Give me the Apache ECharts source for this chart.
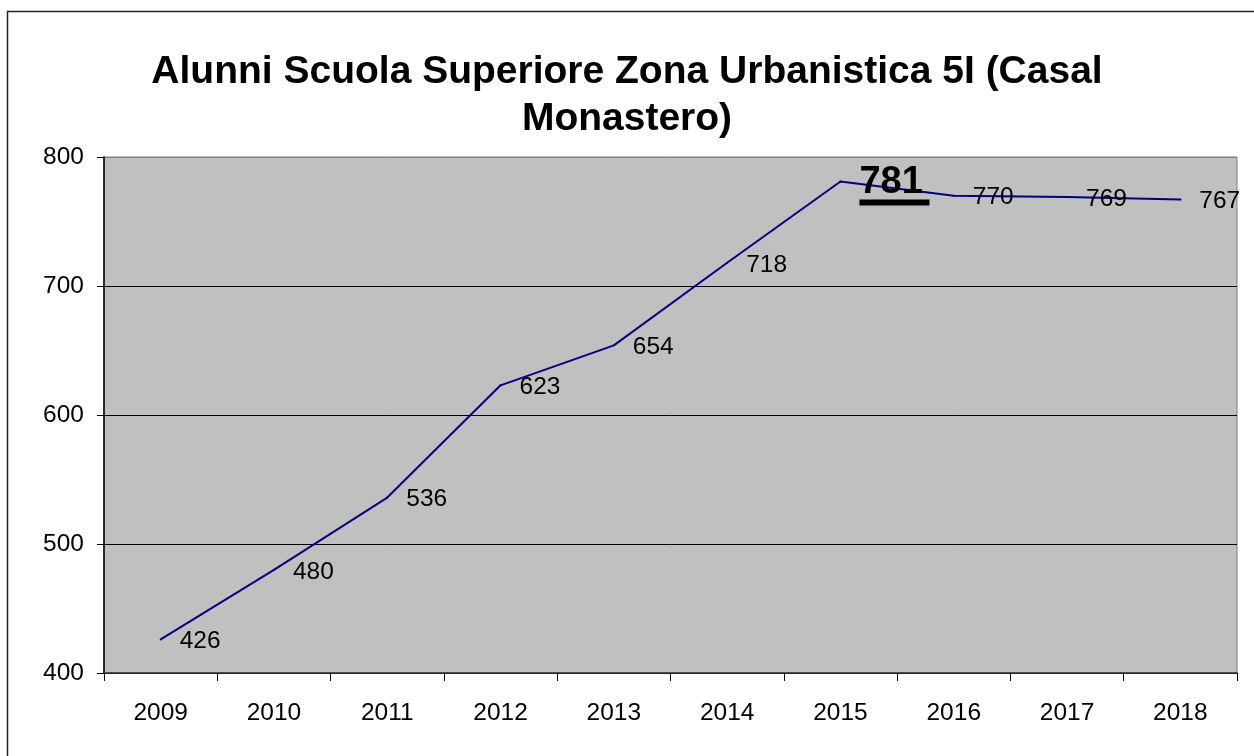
<!DOCTYPE html>
<html>
<head>
<meta charset="utf-8">
<script src="https://cdn.jsdelivr.net/npm/echarts@6/dist/echarts.min.js"></script>
<style>
  html, body { margin: 0; padding: 0; background: #fff; }
  #chart { width: 1254px; height: 756px; }
</style>
</head>
<body>
<div id="chart"></div>
<script>
var anni = ['2009', '2010', '2011', '2012', '2013', '2014', '2015', '2016', '2017', '2018'];
var alunni = [426, 480, 536, 623, 654, 718, 781, 770, 769, 767];
var yTicks = [400, 500, 600, 700, 800];

var maxVal = Math.max.apply(null, alunni);

var myChart = echarts.init(document.getElementById('chart'));
var option = {
    animation: false,
    textStyle: { fontFamily: 'Liberation Sans, Arial, sans-serif' },
    title: {
        text: 'Alunni Scuola Superiore Zona Urbanistica 5I (Casal\nMonastero)',
        left: 'center',
        top: 44,
        textStyle: {
            fontSize: 39,
            fontWeight: 'bold',
            color: '#000',
            lineHeight: 47
        }
    },
    graphic: [{
        type: 'rect',
        shape: { x: 7.5, y: 11.5, width: 1300, height: 800 },
        style: { fill: 'none', stroke: '#222', lineWidth: 1.5 },
        silent: true
    }],
    grid: {
        left: 104,
        right: 17,
        top: 157,
        bottom: 83,
        show: true,
        backgroundColor: '#C0C0C0',
        borderColor: '#808080',
        borderWidth: 1
    },
    xAxis: {
        type: 'category',
        data: anni,
        boundaryGap: true,
        axisLine: { lineStyle: { color: '#333', width: 1.5 } },
        axisTick: { show: true, length: 8, lineStyle: { color: '#000' } },
        axisLabel: { color: '#000', fontSize: 24.5, margin: 28, interval: 0 }
    },
    yAxis: {
        type: 'value',
        min: yTicks[0],
        max: yTicks[yTicks.length - 1],
        interval: 100,
        axisLine: { show: true, lineStyle: { color: '#000', width: 1.5 } },
        axisTick: { show: true, length: 7, lineStyle: { color: '#000' } },
        axisLabel: { color: '#000', fontSize: 24.5, margin: 20 },
        splitLine: {
            show: true,
            lineStyle: { color: ['#000', '#000', '#000', '#000', '#808080'], width: 1 }
        }
    },
    series: [{
        type: 'line',
        data: alunni.map(function (v) {
            if (v === maxVal) {
                return {
                    value: v,
                    label: {
                        formatter: '{v|{c}}\n{u|}',
                        distance: 18,
                        offset: [0, 4],
                        rich: {
                            v: { fontSize: 38, fontWeight: 'bold', color: '#000', lineHeight: 34 },
                            u: { height: 6, width: 70, backgroundColor: '#000' }
                        }
                    }
                };
            }
            return v;
        }),
        symbol: 'circle',
        symbolSize: 2,
        showSymbol: true,
        itemStyle: { color: '#000080' },
        lineStyle: { color: '#000080', width: 2 },
        label: {
            show: true,
            position: 'right',
            distance: 18,
            offset: [0, 2],
            color: '#000',
            fontSize: 24.5
        }
    }]
};
myChart.setOption(option);
</script>
</body>
</html>
